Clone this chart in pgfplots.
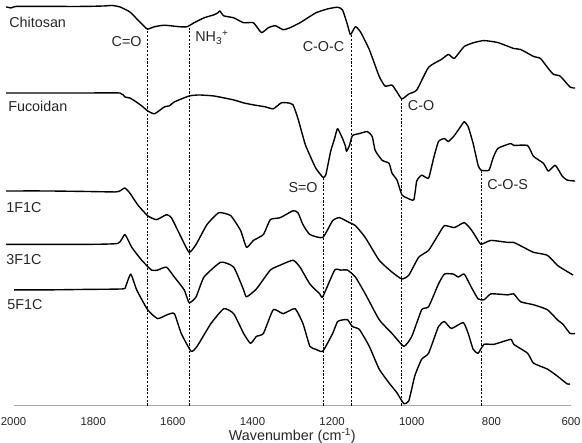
\documentclass[border=0pt]{standalone}
\usepackage{pgfplots}
\pgfplotsset{compat=1.18}
\usepackage{fontspec}
\setmainfont{Liberation Sans}
\definecolor{axgray}{HTML}{A8A8A8}
\definecolor{txt}{HTML}{262626}
\tikzset{spec/.style={black, mark=none, line width=1.4pt, line join=round, smooth, tension=0.3}}
\tikzset{mk/.style={black, mark=none, line width=0.6pt, dash pattern=on 2.2pt off 1.6pt}}
\begin{document}
\begin{tikzpicture}
\begin{axis}[
  width=563.5pt, height=410pt, scale only axis,
  xmin=600, xmax=2000, ymin=0, ymax=410,
  x dir=reverse, clip=false,
  axis x line=bottom, axis y line=none,
  axis line style={axgray, line width=1.3pt, -},
  xtick={600,800,1000,1200,1400,1600,1800,2000},
  xtick style={draw=none},
  /pgf/number format/assume math mode=true,
  /pgf/number format/1000 sep={},
  xticklabel style={font=\fontsize{11.5}{13}\selectfont, text=txt, yshift=-6pt},
  xlabel={Wavenumber (cm\textsuperscript{-1})},
  xlabel style={font=\fontsize{14.5}{16}\selectfont, text=txt, yshift=4pt},
]
% Chitosan
\addplot[spec] coordinates {(2018.6,403)(2006.2,402)(1993.8,403.5)(1919.2,403.5)(1819.9,403.5)(1770.2,404)(1752.8,404.5)(1732.9,403)(1708.1,398)(1688.2,390)(1670.8,383)(1663.3,380.5)(1645.9,383)(1621.1,384.5)(1583.9,383)(1564.0,383)(1546.6,387)(1521.7,392)(1496.9,395)(1487.0,397)(1482.0,399)(1472.0,394)(1447.2,392)(1422.3,387)(1397.5,387)(1377.6,377)(1360.2,382)(1342.8,384)(1323.0,380)(1305.6,382)(1280.7,387)(1241.0,397)(1211.2,401)(1186.3,402.7)(1173.9,400)(1161.5,385)(1154.0,375)(1141.6,383)(1129.2,378)(1106.8,360)(1082.0,333)(1067.1,323)(1049.7,324)(1037.2,317)(1024.8,310)(1007.4,315)(987.6,319)(957.8,342)(925.4,350)(908.0,355)(893.1,351)(868.3,363)(843.5,367)(818.6,369)(783.8,367)(744.1,361)(726.7,360)(694.4,353)(677.0,351)(659.6,342)(644.7,335)(627.3,333)(602.5,322)(590.0,321)};
% Fucoidan
\addplot[spec] coordinates {(2018.6,316)(1919.2,316)(1819.9,316)(1732.9,316)(1720.5,312)(1708.1,311)(1695.6,308)(1678.2,303)(1663.3,298)(1645.9,295)(1621.1,302)(1608.7,303)(1596.2,307)(1559.0,313)(1534.1,314)(1496.9,313)(1447.2,309)(1422.3,306)(1397.5,304)(1367.7,302)(1347.8,300)(1328.0,306)(1310.5,306)(1298.1,304)(1285.7,290)(1268.3,265)(1255.9,253)(1241.0,240)(1223.6,231)(1216.1,233)(1203.7,257)(1193.8,270)(1186.3,280)(1173.9,270)(1166.4,262)(1163.9,257)(1156.5,263)(1149.0,273)(1131.6,275)(1111.8,277)(1099.3,272)(1091.9,258)(1074.5,248)(1057.1,245)(1049.7,235)(1037.2,228)(1024.8,213)(1012.4,210)(995.0,208)(987.6,227)(975.1,233)(957.8,230)(945.3,250)(932.9,267)(918.0,270)(908.0,267)(893.1,273)(875.8,283)(868.3,287)(858.4,282)(845.9,265)(833.5,243)(826.0,238)(806.2,238)(796.2,250)(783.8,260)(751.5,265)(744.1,263)(709.3,263)(694.4,252)(669.5,245)(657.1,237)(639.7,243)(622.3,232)(609.9,228)(590.0,227)};
% 1F1C
\addplot[spec] coordinates {(2018.6,217)(1919.2,217)(1819.9,216.5)(1745.3,216)(1732.9,217)(1720.5,220)(1708.1,215)(1688.2,203)(1663.3,192)(1641.0,188)(1616.1,193)(1603.7,190)(1578.9,170)(1559.0,155)(1541.6,163)(1514.3,183)(1484.5,195)(1454.6,192)(1429.8,177)(1414.9,160)(1397.5,167)(1372.6,173)(1355.2,188)(1330.4,190)(1298.1,197)(1285.7,195)(1273.3,183)(1255.9,173)(1223.6,170)(1198.7,187)(1181.3,190)(1156.5,185)(1141.6,182)(1116.8,170)(1081.9,147)(1049.7,135)(1024.8,128)(1007.4,132)(982.6,150)(957.8,157)(932.9,173)(918.0,182)(893.1,180)(868.3,185)(850.9,178)(833.5,167)(826.0,163)(801.2,167)(758.9,165)(744.1,165)(719.2,160)(694.4,155)(659.6,152)(634.8,142)(619.9,138)(595.0,132)};
% 3F1C
\addplot[spec] coordinates {(2018.6,163)(1919.2,163)(1819.9,163)(1737.9,164)(1720.5,173)(1703.1,160)(1678.2,147)(1653.4,137)(1638.5,137)(1616.1,140)(1596.2,130)(1571.4,117)(1559.0,104)(1541.6,110)(1521.7,130)(1479.5,145)(1447.2,140)(1422.3,117)(1414.9,110)(1390.1,118)(1355.2,137)(1330.4,142)(1298.1,147)(1280.7,140)(1255.9,123)(1231.1,113)(1223.6,110)(1193.8,137)(1178.9,137)(1161.5,137)(1141.6,130)(1116.8,113)(1081.9,87)(1049.7,73)(1019.9,60)(1000.0,70)(975.1,97)(957.8,100)(932.9,123)(918.0,133)(895.6,133)(883.2,130)(868.3,133)(850.9,120)(833.5,108)(818.6,107)(801.2,113)(758.9,112)(744.1,113)(726.7,105)(694.4,102)(659.6,97)(634.8,87)(619.9,82)(602.5,73)(590.0,73)};
% 5F1C
\addplot[spec] coordinates {(1998.7,117)(1919.2,117)(1819.9,117.5)(1725.5,118)(1718.0,121)(1705.6,133)(1690.7,117)(1663.3,97)(1638.5,88)(1613.6,92)(1596.2,93)(1578.9,73)(1554.0,55)(1539.1,60)(1504.3,83)(1472.0,98)(1447.2,93)(1422.3,73)(1404.9,63)(1390.1,70)(1372.6,73)(1347.8,97)(1323.0,93)(1293.2,98)(1273.3,83)(1255.9,60)(1241.0,57)(1223.6,55)(1198.7,73)(1186.3,85)(1168.9,87)(1161.5,87)(1149.0,80)(1131.6,77)(1106.8,60)(1081.9,37)(1057.1,23)(1037.2,13)(1019.9,2)(1007.4,5)(992.5,30)(975.1,47)(957.8,53)(932.9,80)(918.0,85)(900.6,78)(870.8,84)(858.4,73)(845.9,57)(833.5,53)(818.6,62)(793.8,62)(751.5,67)(744.1,62)(709.3,53)(694.4,43)(659.6,37)(634.8,30)(609.9,22)(602.5,22)};
% dashed markers
\addplot[mk] coordinates {(1663,0)(1663,382)};
\addplot[mk] coordinates {(1558,0)(1558,383)};
\addplot[mk] coordinates {(1153,0)(1153,375)};
\addplot[mk] coordinates {(1027,0)(1027,311)};
\addplot[mk] coordinates {(1222,0)(1222,230)};
\addplot[mk] coordinates {(826,0)(826,238)};
% labels
\begin{scope}[every node/.style={font=\fontsize{14.5}{16}\selectfont, text=txt, inner sep=0pt}]
\node[anchor=west] at (axis cs:2011,387) {Chitosan};
\node[anchor=west] at (axis cs:2013.7,302) {Fucoidan};
\node[anchor=west] at (axis cs:2018.6,200) {1F1C};
\node[anchor=west] at (axis cs:2018.6,148) {3F1C};
\node[anchor=west] at (axis cs:2016,102) {5F1C};
\node[anchor=east] at (axis cs:1678,368) {C=O};
\node[anchor=west] at (axis cs:1544,372) {NH\textsubscript{3}\textsuperscript{+}};
\node[anchor=east] at (axis cs:1169,363) {C-O-C};
\node[anchor=west] at (axis cs:1010,303) {C-O};
\node[anchor=west] at (axis cs:1310,220) {S=O};
\node[anchor=west] at (axis cs:811,223) {C-O-S};
\end{scope}
\coordinate (BBa) at (axis cs:2034,-37);
\coordinate (BBb) at (axis cs:572.6,410);
\end{axis}
\pgfresetboundingbox
\path[use as bounding box] (BBa) rectangle (BBb);
\end{tikzpicture}
\end{document}
